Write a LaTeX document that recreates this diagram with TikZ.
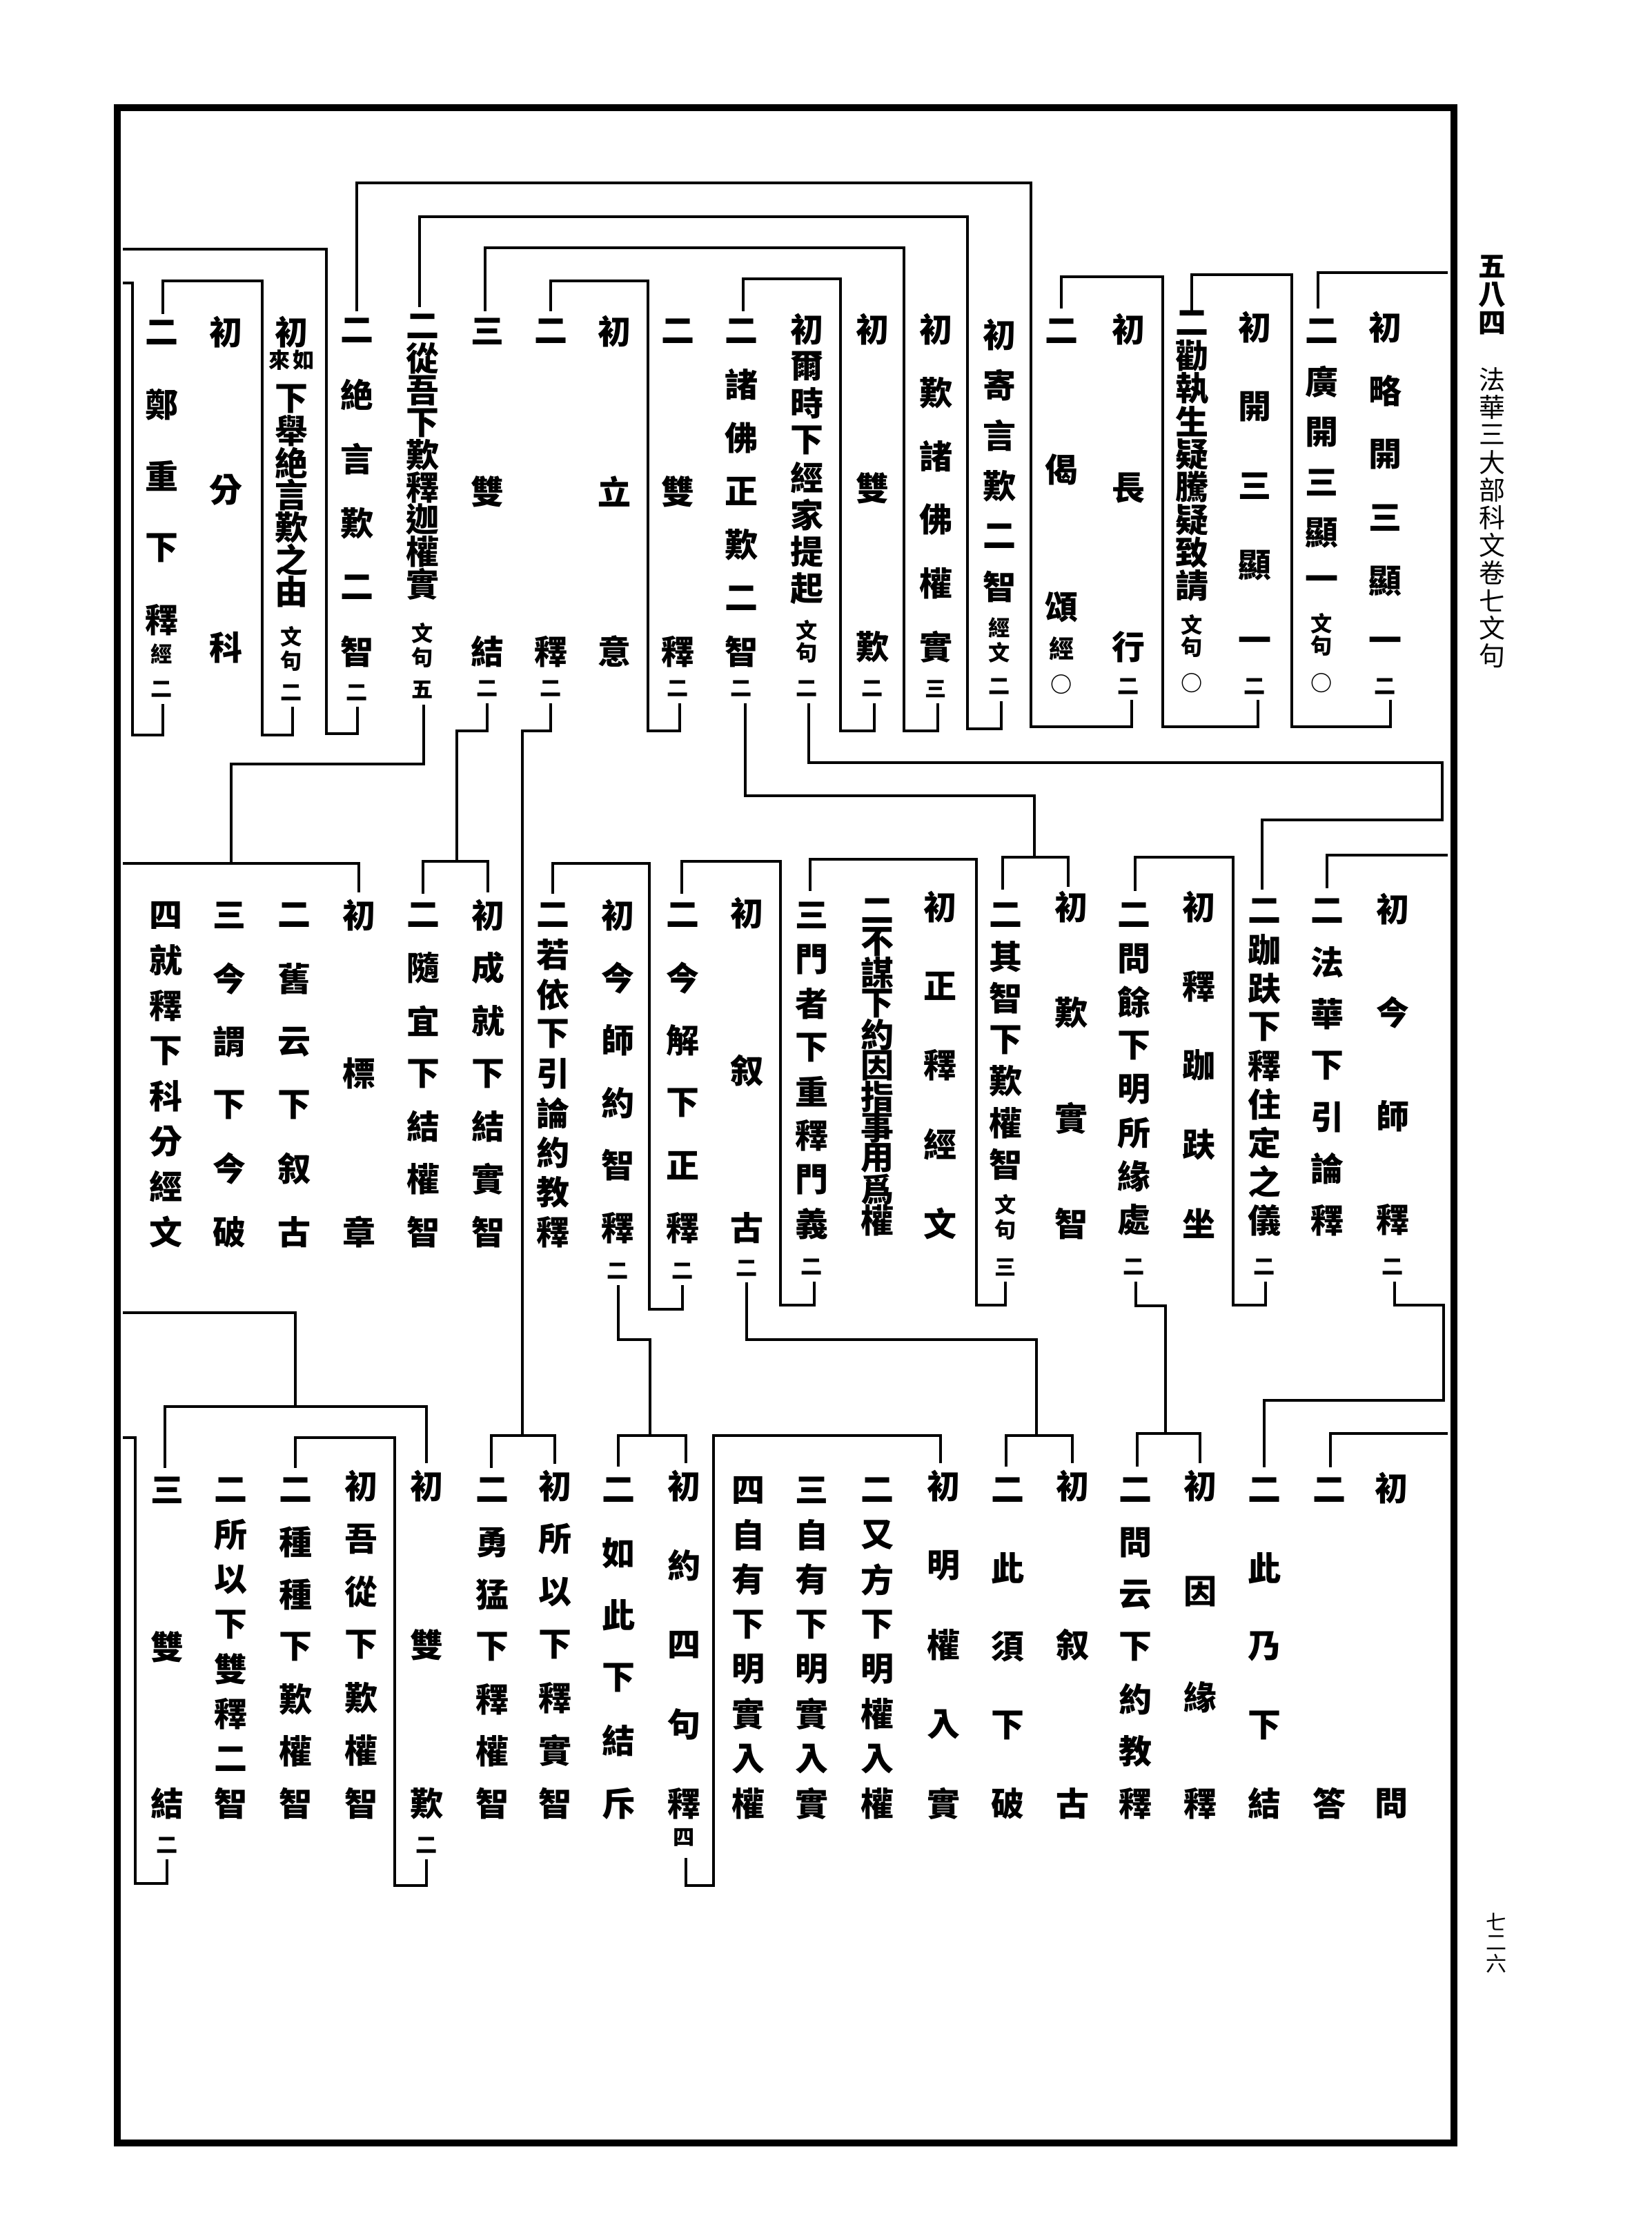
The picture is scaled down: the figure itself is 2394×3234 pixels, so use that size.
\documentclass[tikz,border=0pt]{standalone}
\usepackage{fontspec}
\newfontfamily\cjk{Noto Sans CJK TC}
\tikzset{
  ch/.style={font=\cjk\bfseries\fontsize{12}{12}\selectfont, inner sep=0pt, anchor=center},
  sm/.style={font=\cjk\bfseries\fontsize{7.8}{7.8}\selectfont, inner sep=0pt, anchor=center},
  md/.style={font=\cjk\bfseries\fontsize{9}{9}\selectfont, inner sep=0pt, anchor=center},
  hd/.style={font=\cjk\fontsize{9.5}{9.5}\selectfont, inner sep=0pt, anchor=center},
  hdb/.style={font=\cjk\bfseries\fontsize{10}{10}\selectfont, inner sep=0pt, anchor=center},
  pg/.style={font=\cjk\fontsize{7.5}{7.5}\selectfont, inner sep=0pt, anchor=center},
  ln/.style={line width=0.8pt, line join=miter},
  frame/.style={line width=2.3pt}
}
\newcommand\vcol[4]{\foreach \vch [count=\vk from 0] in {#4}{\node[ch] (t#1-\vk) at (#1,{#2+\vk*#3}) {\vch};}}
\newcommand\vsm[3]{\node[sm] (s#1-#2) at (#1,#2) {#3};}
\begin{document}
\begin{tikzpicture}[x=0.25pt,y=-0.25pt]
\useasboundingbox (0,0) rectangle (2394,3234);
\fill[white] (0,0) rectangle (2394,3234);
\draw[frame] (170,156) rectangle (2107,3105);
% header
\foreach \c [count=\k from 0] in {五,八,四} {\node[hdb] (h\k) at (2162,{386+\k*41}) {\c};}
\foreach \c [count=\k from 0] in {法,華,三,大,部,科,文,卷,七,文,句} {\node[hd] (g\k) at (2162,{550+\k*40}) {\c};}
\foreach \c [count=\k from 0] in {七,二,六} {\node[pg] (p\k) at (2168,{2785+\k*30}) {\c};}

% ===== top tier =====
\vcol{2007}{474}{92}{初,略,開,三,顯,一} \vsm{2007}{995}{二}
\vcol{1915}{480}{73}{二,廣,開,三,顯,一} \vsm{1915}{903}{文}\vsm{1915}{936}{句}\vsm{1915}{990}{○}
\vcol{1818}{474}{115}{初,開,三,顯,一} \vsm{1818}{995}{二}
\vcol{1727}{468}{47.5}{二,勸,執,生,疑,騰,疑,致,請} \vsm{1727}{905}{文}\vsm{1727}{938}{句}\vsm{1727}{990}{○}
\vcol{1635}{477}{230}{初,長,行} \vsm{1635}{995}{二}
\vcol{1538}{480}{200}{二,偈,頌} \node[md] (m1) at (1538,940) {經}; \vsm{1538}{992}{○}
\vcol{1448}{485}{73}{初,寄,言,歎,二,智} \vsm{1448}{910}{經}\vsm{1448}{945}{文}\vsm{1448}{995}{二}
\vcol{1356}{477}{92}{初,歎,諸,佛,權,實} \vsm{1356}{998}{三}
\vcol{1264}{477}{230}{初,雙,歎} \vsm{1264}{998}{二}
\vcol{1169}{477}{53.7}{初,爾,時,下,經,家,提,起} \vsm{1169}{913}{文}\vsm{1169}{946}{句}\vsm{1169}{998}{二}
\vcol{1074}{480}{77.3}{二,諸,佛,正,歎,二,智} \vsm{1074}{998}{二}
\vcol{982}{480}{232}{二,雙,釋} \vsm{982}{998}{二}
\vcol{890}{480}{232}{初,立,意}
\vcol{798}{480}{464}{二,釋} \vsm{798}{998}{二}
\vcol{706}{480}{232}{三,雙,結} \vsm{706}{998}{二}
\vcol{612}{473}{46.6}{二,從,吾,下,歎,釋,迦,權,實} \vsm{612}{917}{文}\vsm{612}{953}{句}\vsm{612}{999}{五}
\vcol{517}{479}{93}{二,絶,言,歎,二,智} \vsm{517}{1004}{二}
\node[ch] (t422-a) at (422,481) {初}; \vsm{440}{522}{如}\vsm{405}{522}{來}
\vcol{422}{578}{46.5}{下,舉,絶,言,歎,之,由} \vsm{422}{922}{文}\vsm{422}{958}{句}\vsm{422}{1004}{二}
\vcol{327}{481}{228.5}{初,分,科}
\vcol{234}{482}{104}{二,鄭,重,下,釋} \vsm{234}{948}{經}\vsm{234}{999}{二}

% ===== middle tier =====
\vcol{2018}{1317}{150}{初,今,師,釋} \vsm{2018}{1836}{二}
\vcol{1923}{1320}{74.7}{二,法,華,下,引,論,釋}
\vcol{1832}{1320}{56}{二,跏,趺,下,釋,住,定,之,儀} \vsm{1832}{1836}{二}
\vcol{1737}{1314}{114.75}{初,釋,跏,趺,坐}
\vcol{1643}{1326}{63.1}{二,問,餘,下,明,所,緣,處} \vsm{1643}{1836}{二}
\vcol{1552}{1314}{153}{初,歎,實,智}
\vcol{1457}{1326}{60.2}{二,其,智,下,歎,權,智} \vsm{1457}{1745}{文}\vsm{1457}{1782}{句}\vsm{1457}{1836}{三}
\vcol{1362}{1314}{114.75}{初,正,釋,經,文}
\vcol{1271}{1320}{44.8}{二,不,謀,下,約,因,指,事,用,爲,權}
\vcol{1176}{1326}{63.9}{三,門,者,下,重,釋,門,義} \vsm{1176}{1836}{二}
\vcol{1082}{1323}{228}{初,叙,古} \vsm{1082}{1838}{二}
\vcol{989}{1326}{90.6}{二,今,解,下,正,釋} \vsm{989}{1842}{二}
\vcol{895}{1326}{90.6}{初,今,師,約,智,釋} \vsm{895}{1842}{二}
\vcol{801}{1326}{57.4}{二,若,依,下,引,論,約,教,釋}
\vcol{707}{1326}{76.5}{初,成,就,下,結,實,智}
\vcol{613}{1326}{76.5}{二,隨,宜,下,結,權,智}
\vcol{520}{1326}{229.5}{初,標,章}
\vcol{426}{1326}{91.8}{二,舊,云,下,叙,古}
\vcol{332}{1326}{91.8}{三,今,謂,下,今,破}
\vcol{240}{1326}{65.6}{四,就,釋,下,科,分,經,文}

% ===== bottom tier =====
\vcol{2016}{2156}{457}{初,問}
\vcol{1926}{2159}{454}{二,答}
\vcol{1832}{2159}{113.5}{二,此,乃,下,結}
\vcol{1739}{2153}{153.3}{初,因,緣,釋}
\vcol{1645}{2159}{75.7}{二,問,云,下,約,教,釋}
\vcol{1554}{2153}{230}{初,叙,古}
\vcol{1460}{2159}{113.5}{二,此,須,下,破}
\vcol{1367}{2153}{115}{初,明,權,入,實}
\vcol{1271}{2159}{64.9}{二,又,方,下,明,權,入,權}
\vcol{1176}{2159}{64.9}{三,自,有,下,明,實,入,實}
\vcol{1084}{2159}{64.9}{四,自,有,下,明,實,入,權}
\vcol{991}{2153}{115}{初,約,四,句,釋} \vsm{991}{2662}{四}
\vcol{896}{2159}{90.8}{二,如,此,下,結,斥}
\vcol{804}{2153}{76.7}{初,所,以,下,釋,實,智}
\vcol{713}{2159}{75.7}{二,勇,猛,下,釋,權,智}
\vcol{618}{2153}{230}{初,雙,歎} \vsm{618}{2674}{二}
\vcol{523}{2153}{76.7}{初,吾,從,下,歎,權,智}
\vcol{428}{2159}{75.7}{二,種,種,下,歎,權,智}
\vcol{334}{2159}{64.9}{二,所,以,下,雙,釋,二,智}
\vcol{242}{2159}{227}{三,雙,結} \vsm{242}{2674}{二}

% ===== lines: top tier =====
\draw[ln] (2098,395)--(1910,395)--(1910,447);
\draw[ln] (2015,1014)--(2015,1053)--(1872,1053)--(1872,398)--(1727,398)--(1727,450);
\draw[ln] (1823,1014)--(1823,1053)--(1685,1053)--(1685,401)--(1538,401)--(1538,447);
\draw[ln] (1640,1014)--(1640,1053)--(1494,1053)--(1494,265)--(517,265)--(517,451);
\draw[ln] (1451,1016)--(1451,1056)--(1402,1056)--(1402,314)--(608,314)--(608,445);
\draw[ln] (1359,1019)--(1359,1059)--(1310,1059)--(1310,359)--(703,359)--(703,451);
\draw[ln] (1267,1019)--(1267,1059)--(1218,1059)--(1218,404)--(1077,404)--(1077,451);
\draw[ln] (985,1019)--(985,1059)--(939,1059)--(939,407)--(798,407)--(798,451);
\draw[ln] (518,1024)--(518,1063)--(473,1063)--(473,361)--(178,361);
\draw[ln] (424,1024)--(424,1065)--(380,1065)--(380,407)--(236,407)--(236,455);
\draw[ln] (236,1020)--(236,1065)--(192,1065)--(192,410)--(178,410);
% ===== top -> middle =====
\draw[ln] (1172,1019)--(1172,1105)--(2090,1105)--(2090,1188)--(1829,1188)--(1829,1289);
\draw[ln] (2098,1239)--(1923,1239)--(1923,1287);
\draw[ln] (1080,1019)--(1080,1153)--(1499,1153)--(1499,1242);
\draw[ln] (1453,1289)--(1453,1242)--(1548,1242)--(1548,1285);
\draw[ln] (614,1021)--(614,1107)--(335,1107)--(335,1251);
\draw[ln] (178,1251)--(520,1251)--(520,1293);
\draw[ln] (706,1019)--(706,1059)--(662,1059)--(662,1248);
\draw[ln] (613,1295)--(613,1248)--(707,1248)--(707,1293);
\draw[ln] (798,1019)--(798,1059)--(757,1059)--(757,2080);
\draw[ln] (712,2127)--(712,2080)--(804,2080)--(804,2121);
% ===== middle tier =====
\draw[ln] (2021,1857)--(2021,1891)--(2092,1891)--(2092,2029)--(1832,2029)--(1832,2126);
\draw[ln] (2098,2077)--(1928,2077)--(1928,2126);
\draw[ln] (1834,1857)--(1834,1891)--(1787,1891)--(1787,1242)--(1645,1242)--(1645,1291);
\draw[ln] (1646,1857)--(1646,1892)--(1689,1892)--(1689,2077);
\draw[ln] (1648,2125)--(1648,2077)--(1739,2077)--(1739,2120);
\draw[ln] (1457,1857)--(1457,1891)--(1415,1891)--(1415,1245)--(1174,1245)--(1174,1291);
\draw[ln] (1180,1857)--(1180,1891)--(1131,1891)--(1131,1248)--(988,1248)--(988,1295);
\draw[ln] (1082,1858)--(1082,1941)--(1502,1941)--(1502,2080);
\draw[ln] (1458,2125)--(1458,2080)--(1554,2080)--(1554,2120);
\draw[ln] (989,1862)--(989,1897)--(941,1897)--(941,1251)--(801,1251)--(801,1295);
\draw[ln] (896,1862)--(896,1941)--(942,1941)--(942,2080);
\draw[ln] (896,2125)--(896,2080)--(994,2080)--(994,2120);
% ===== bottom tier =====
\draw[ln] (994,2692)--(994,2732)--(1034,2732)--(1034,2080)--(1363,2080)--(1363,2120);
\draw[ln] (618,2694)--(618,2732)--(572,2732)--(572,2083)--(428,2083)--(428,2127);
\draw[ln] (242,2694)--(242,2729)--(196,2729)--(196,2083)--(178,2083);
\draw[ln] (178,1902)--(428,1902)--(428,2038);
\draw[ln] (239,2127)--(239,2038)--(618,2038)--(618,2120);
\end{tikzpicture}
\end{document}
